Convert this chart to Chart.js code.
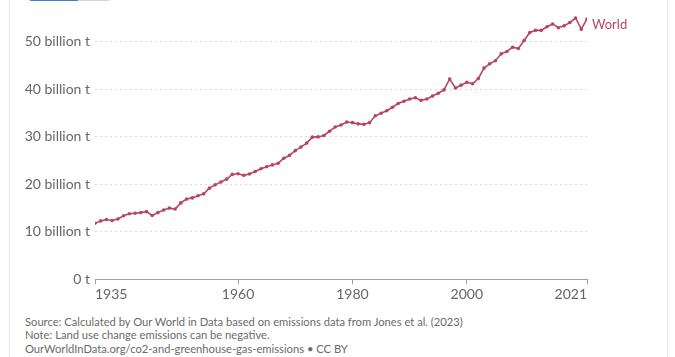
<!DOCTYPE html>
<html>
<head>
<meta charset="utf-8">
<script src="https://cdn.jsdelivr.net/npm/chart.js@4"></script>
<style>
  html, body { margin:0; padding:0; background:#fff; width:675px; height:357px; overflow:hidden; font-family: Lato, "Open Sans", sans-serif; }
  #card { position:absolute; left:9px; top:-2px; width:657px; height:370px; border-left:1px solid #e8e8e8; border-right:1px solid #e8e8e8; }
  #tabA { position:absolute; left:28px; top:-12px; width:50px; height:13px; border:1px solid #3c7fc9; border-radius:0 0 0 4px; box-sizing:border-box; border-width:0 0 2px 1px; }
  #tabB { position:absolute; left:78px; top:-12px; width:33px; height:13px; border:1px solid #d5d5d5; border-radius:0 0 4px 0; box-sizing:border-box; border-width:0 1px 1px 0; }
  #c { position:absolute; left:0; top:0; }
  .foot { position:absolute; left:25px; font-size:11.2px; color:#6b6b6b; line-height:14px; white-space:nowrap; }
</style>
</head>
<body>
<div id="card"></div>
<div id="tabA"></div>
<div id="tabB"></div>
<canvas id="c" width="675" height="310"></canvas>
<div class="foot" style="top:315px">Source: Calculated by Our World in Data based on emissions data from Jones et al. (2023)</div>
<div class="foot" style="top:328px">Note: Land use change emissions can be negative.</div>
<div class="foot" style="top:342px">OurWorldInData.org/co2-and-greenhouse-gas-emissions • CC BY</div>
<script>
const years = [1935,1936,1937,1938,1939,1940,1941,1942,1943,1944,1945,1946,1947,1948,1949,
  1950,1951,1952,1953,1954,1955,1956,1957,1958,1959,1960,1961,1962,1963,1964,1965,1966,1967,1968,1969,
  1970,1971,1972,1973,1974,1975,1976,1977,1978,1979,1980,1981,1982,1983,1984,1985,1986,1987,1988,1989,
  1990,1991,1992,1993,1994,1995,1996,1997,1998,1999,2000,2001,2002,2003,2004,2005,2006,2007,2008,2009,
  2010,2011,2012,2013,2014,2015,2016,2017,2018,2019,2020,2021];
// World GHG emissions, billion tonnes CO2e
const world = [11.8,12.3,12.6,12.4,12.7,13.4,13.8,13.9,14.05,14.25,13.45,14.05,14.6,15.0,14.8,
  16.1,16.9,17.15,17.6,18.0,19.2,19.9,20.5,21.1,22.1,22.25,21.9,22.2,22.7,23.3,23.7,24.1,24.45,25.5,26.1,
  27.1,27.85,28.7,29.95,30.0,30.3,31.2,32.1,32.5,33.15,33.0,32.75,32.65,33.0,34.45,35.0,35.5,36.25,37.05,37.5,
  38.0,38.25,37.7,38.0,38.6,39.2,39.9,42.2,40.3,40.9,41.5,41.2,42.3,44.5,45.4,46.05,47.5,48.0,48.9,48.6,
  50.3,52.0,52.45,52.45,53.2,53.8,53.0,53.4,54.1,55.05,52.7,54.85];
const seriesName = "World";
const xTicks = [1935,1960,1980,2000,2021];
const yTicks = [0,10,20,30,40,50];
const yTickLabels = ["0 t","10 billion t","20 billion t","30 billion t","40 billion t","50 billion t"];

const lineColor = "#b6465f";
const FONT = "Lato, 'Open Sans', sans-serif";

const labelsPlugin = {
  id: 'owidLabels',
  afterDraw(chart) {
    const ctx = chart.ctx;
    const xs = chart.scales.x;
    const ys = chart.scales.y;
    ctx.save();
    ctx.font = "14px " + FONT;
    ctx.fillStyle = "#666";
    ctx.textBaseline = "alphabetic";
    xTicks.forEach((t, i) => {
      const px = xs.getPixelForValue(t);
      ctx.textAlign = i === 0 ? "left" : (i === xTicks.length - 1 ? "right" : "center");
      ctx.fillText(String(t), px, 299);
    });
    const lastX = xs.getPixelForValue(years[years.length - 1]);
    const lastY = ys.getPixelForValue(world[world.length - 1]);
    ctx.font = "13px " + FONT;
    ctx.fillStyle = lineColor;
    ctx.textAlign = "left";
    ctx.fillText(seriesName, lastX + 5, lastY + 10);
    ctx.restore();
  }
};

new Chart(document.getElementById('c'), {
  type: 'line',
  data: {
    datasets: [{
      label: seriesName,
      data: years.map((y, i) => ({x: y, y: world[i]})),
      borderColor: lineColor,
      backgroundColor: lineColor,
      borderWidth: 1.6,
      pointRadius: 1.8,
      pointBorderWidth: 0,
      pointBackgroundColor: lineColor,
      tension: 0
    }]
  },
  options: {
    responsive: false,
    animation: false,
    devicePixelRatio: 1,
    layout: { padding: { top: 13.5, right: 88, left: 0, bottom: 0 } },
    plugins: { legend: { display: false }, tooltip: { enabled: false } },
    scales: {
      x: {
        type: 'linear',
        min: 1935, max: 2021,
        afterBuildTicks: s => { s.ticks = xTicks.map(v => ({value: v})); },
        afterFit: s => { s.height = 30.7; },
        ticks: { display: false },
        grid: { drawOnChartArea: false, drawTicks: true, tickLength: 5, color: '#a0a0a0', lineWidth: 1 },
        border: { display: true, color: '#a0a0a0', width: 1 }
      },
      y: {
        min: 0, max: 56,
        afterBuildTicks: s => { s.ticks = yTicks.map(v => ({value: v})); },
        afterFit: s => { s.width = 95; },
        ticks: {
          callback: (v) => yTickLabels[yTicks.indexOf(v)],
          color: '#666',
          font: { family: FONT, size: 14 },
          padding: 5
        },
        grid: { color: '#d9d9d9', drawTicks: false, lineWidth: 1 },
        border: { display: false, dash: [2, 3] }
      }
    }
  },
  plugins: [labelsPlugin]
});
</script>
</body>
</html>
